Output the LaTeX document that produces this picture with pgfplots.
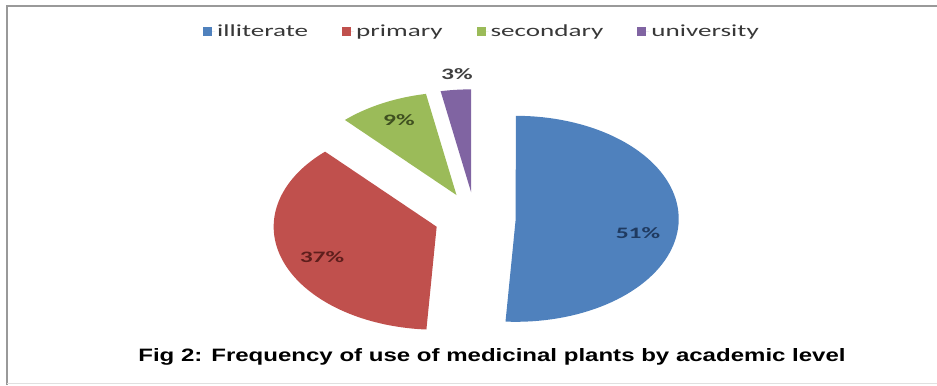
\documentclass[border=0pt]{standalone}
\usepackage{pgfplots}
\pgfplotsset{compat=1.18}
\usepackage{pgfplotstable}
\usepackage{fontspec}
\setmainfont{Carlito}
\newfontfamily\titlefont{Liberation Sans}
\definecolor{cIll}{HTML}{4F81BD}
\definecolor{cPri}{HTML}{C0504D}
\definecolor{cSec}{HTML}{9BBB59}
\definecolor{cUni}{HTML}{8064A2}
\definecolor{tIll}{HTML}{1F3A60}
\definecolor{tPri}{HTML}{5E1E1C}
\definecolor{tSec}{HTML}{3F5020}
\definecolor{tUni}{HTML}{404040}
\newcommand\legtext[1]{\scalebox{1.6}[1]{#1}}
\newcommand\lab[1]{\scalebox{1.6}[1]{#1}}

% value in percent; label position in chart pixels (y upwards)
\pgfplotstableread{
name value fillc textc lx ly
illiterate 51 cIll tIll 638 152
primary 37 cPri tPri 322 128
secondary 9 cSec tSec 399 265
university 3 cUni tUni 457 311
}\piedata

\begin{document}
\begin{tikzpicture}
\begin{axis}[
  x=1bp, y=1bp,
  xmin=0, xmax=937, ymin=0, ymax=385,
  hide axis, clip=false,
  legend columns=4,
  legend style={at={(axis cs:482,354)}, anchor=center, draw=none, fill=none,
    font=\fontsize{17}{20}\selectfont, text=black!78,
    /tikz/every even column/.append style={column sep=32bp}},
  legend image code/.code={\fill[#1] (0bp,-4.5bp) rectangle (9bp,4.5bp); \path (0bp,0bp) -- (12bp,0bp);},
]
\coordinate (bl) at (axis cs:0,0);
\coordinate (tr) at (axis cs:937,385);
\def\cum{0}
\pgfplotsforeachungrouped \i in {0,...,3}{
  \pgfplotstablegetelem{\i}{value}\of\piedata \let\val\pgfplotsretval
  \pgfplotstablegetelem{\i}{name}\of\piedata \let\nm\pgfplotsretval
  \pgfplotstablegetelem{\i}{fillc}\of\piedata \let\fc\pgfplotsretval
  \pgfplotstablegetelem{\i}{textc}\of\piedata \let\tc\pgfplotsretval
  \pgfplotstablegetelem{\i}{lx}\of\piedata \let\lx\pgfplotsretval
  \pgfplotstablegetelem{\i}{ly}\of\piedata \let\ly\pgfplotsretval
  \pgfmathsetmacro\aone{90-3.6*\cum}
  \pgfmathsetmacro\atwo{90-3.6*(\cum+\val)}
  \pgfmathsetmacro\amid{(\aone+\atwo)/2}
  \pgfmathsetmacro\ax{475+0.25*163*cos(\amid)}
  \pgfmathsetmacro\ay{167+0.25*103*sin(\amid)}
  \edef\doplot{%
    \noexpand\addplot[fill=\fc, draw=none, domain=\atwo:\aone, samples=80, variable=\noexpand\t]
      ({\ax+163*cos(\noexpand\t)},{\ay+103*sin(\noexpand\t)}) -- (axis cs:\ax,\ay) -- cycle;
    \noexpand\addlegendentry{\noexpand\legtext{\nm}}
    \noexpand\node[text=\tc, font=\noexpand\fontsize{16}{18}\noexpand\selectfont\noexpand\bfseries] at (axis cs:\lx,\ly) {\noexpand\lab{\val\%}};
  }
  \doplot
  \pgfmathsetmacro\cum{\cum+\val}
}
\node[font=\titlefont\bfseries\fontsize{18}{21}\selectfont] at (axis cs:492,28)
  {\scalebox{1.34}[1]{Fig 2: Frequency of use of medicinal plants by academic level}};
\draw[black!40, line width=2bp] (axis cs:7,0) -- (axis cs:7,378.5) -- (axis cs:937,378.5);
\draw[black!12, line width=1bp] (axis cs:7,1.5) -- (axis cs:937,1.5);
\end{axis}
\pgfresetboundingbox
\useasboundingbox (bl) rectangle (tr);
\end{tikzpicture}
\end{document}
